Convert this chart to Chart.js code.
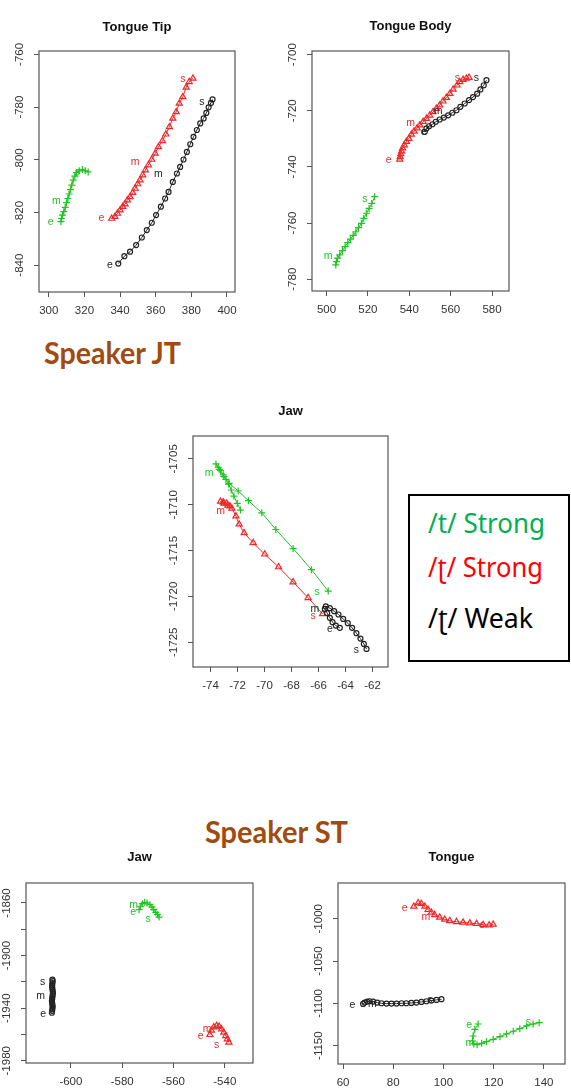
<!DOCTYPE html>
<html lang="en">
<head>
<meta charset="UTF-8">
<title>Speaker JT / ST trajectories</title>
<script src="https://cdn.jsdelivr.net/npm/chart.js"></script>
<style>
  body { margin: 0; background: #fff; width: 571px; height: 1090px; position: relative; overflow: hidden; }
  canvas { position: absolute; }
  .speaker { position: absolute; font-family: Lato, sans-serif; font-weight: bold; color: #A04B10;
             font-size: 31px; line-height: 1; white-space: nowrap; transform-origin: 0 0; }
  #legend { position: absolute; left: 408px; top: 494px; width: 162px; height: 168px;
            box-sizing: border-box; border: 2px solid #000; }
  #legend div { position: absolute; left: 18px; font-family: 'Noto Sans', sans-serif; font-size: 26.5px;
                line-height: 1; white-space: nowrap; transform-origin: 0 0; }
</style>
</head>
<body>
<div class="speaker" id="jt" data-w="137" style="left:44px; top:337px;">Speaker JT</div>
<div class="speaker" id="st" data-w="143" style="left:205px; top:816px;">Speaker ST</div>
<div id="legend">
  <div data-w="117" style="top:14px; color:#00B050;">/t/ Strong</div>
  <div data-w="115" style="top:58px; color:#FF0000;">/ʈ/ Strong</div>
  <div data-w="105" style="top:109px; color:#000;">/ʈ/ Weak</div>
</div>

<canvas id="tip"></canvas>
<canvas id="body"></canvas>
<canvas id="jawJT"></canvas>
<canvas id="jawST"></canvas>
<canvas id="tongueST"></canvas>

<script>
// ---- Speaker JT, Tongue Tip ----
const tipGreenX = [306.8, 307.1, 307.7, 308.4, 309.2, 309.9, 310.7, 311.4, 312.2, 312.9, 313.7, 314.6, 315.6, 317.1, 318.9, 320.5, 322.1];
const tipGreenY = [-823.5, -822.3, -821.0, -819.7, -818.1, -816.3, -814.7, -813.0, -811.3, -809.6, -807.7, -806.2, -804.9, -804.2, -803.7, -804.2, -804.6];
const tipRedX = [335.3, 337.1, 338.5, 340.0, 341.5, 342.8, 344.1, 345.6, 347.1, 348.4, 349.9, 351.2, 352.7, 354.2, 355.9, 357.8, 359.7, 361.5, 363.8, 365.7, 367.7, 369.6, 371.5, 373.2, 375.2, 377.1, 378.8, 380.9];
const tipRedY = [-822.3, -821.6, -820.4, -819.1, -817.8, -816.8, -815.3, -814.1, -812.5, -810.9, -809.2, -807.7, -805.8, -803.9, -802.0, -799.9, -797.6, -795.1, -792.8, -790.3, -787.5, -784.3, -781.8, -778.6, -776.1, -772.5, -770.4, -769.1];
const tipBlackX = [339.0, 342.4, 345.6, 349.0, 352.2, 355.0, 357.8, 360.2, 362.9, 365.3, 367.2, 369.6, 371.9, 373.7, 375.6, 377.5, 379.4, 381.2, 383.1, 385.0, 386.9, 388.4, 389.7, 391.0, 391.9];
const tipBlackY = [-839.4, -836.6, -834.9, -832.4, -829.5, -826.7, -823.9, -821.0, -817.8, -814.7, -812.2, -808.4, -805.2, -802.7, -799.9, -797.0, -794.1, -791.3, -788.7, -786.2, -784.3, -782.2, -780.1, -778.4, -777.1];
const tipGreenTags = [['e', 301.1, -823.5], ['m', 304.3, -815.6], ['s', 316.0, -804.7]];
const tipRedTags = [['e', 329.6, -822.3], ['m', 348.4, -801.0], ['s', 375.2, -769.4]];
const tipBlackTags = [['e', 334.3, -840.0], ['m', 361.5, -805.4], ['s', 385.9, -778.0]];
const tipXTicks = [300, 320, 340, 360, 380, 400];
const tipYTicks = [-840, -820, -800, -780, -760];

// ---- Speaker JT, Tongue Body ----
const bodyGreenX = [504.5, 504.8, 505.3, 506.4, 507.7, 509.0, 510.3, 511.6, 512.9, 514.2, 515.5, 516.9, 518.0, 519.3, 520.6, 521.9, 523.3];
const bodyGreenY = [-774.9, -773.7, -772.5, -771.3, -769.8, -768.4, -767.0, -765.7, -764.4, -763.1, -761.6, -760.1, -758.3, -756.5, -754.8, -753.0, -750.6];
const bodyRedX = [535.4, 535.6, 535.9, 536.3, 536.8, 537.6, 538.6, 539.8, 541.0, 542.3, 543.8, 545.1, 546.7, 548.3, 549.9, 551.5, 553.1, 554.7, 556.3, 557.9, 559.6, 561.2, 563.1, 564.4, 566.0, 567.6, 568.9];
const bodyRedY = [-737.3, -736.4, -735.4, -734.4, -733.3, -732.2, -731.0, -729.9, -728.4, -727.3, -726.2, -725.1, -723.9, -722.8, -721.6, -720.4, -719.2, -718.0, -716.6, -715.3, -713.9, -712.4, -710.9, -709.7, -708.9, -708.5, -708.2];
const bodyBlackX = [547.5, 548.3, 549.6, 551.2, 552.8, 554.7, 556.7, 558.8, 560.8, 562.8, 564.7, 566.8, 568.9, 570.8, 572.8, 574.4, 576.0, 577.3];
const bodyBlackY = [-727.5, -726.3, -725.5, -724.8, -723.9, -723.1, -722.4, -721.6, -720.7, -719.8, -718.6, -717.4, -716.2, -715.1, -713.9, -712.4, -710.9, -709.1];
const bodyGreenTags = [['m', 500.8, -771.7], ['s', 518.5, -751.4]];
const bodyRedTags = [['e', 530.1, -737.6], ['m', 540.6, -724.3], ['s', 563.3, -708.2]];
const bodyBlackTags = [['e', 547.0, -727.5], ['m', 553.9, -720.1], ['s', 572.4, -708.2]];
const bodyXTicks = [500, 520, 540, 560, 580];
const bodyYTicks = [-780, -760, -740, -720, -700];

// ---- Speaker JT, Jaw ----
const jtGreenX = [-71.78, -72.02, -72.27, -72.47, -72.67, -72.86, -73.06, -73.26, -73.43, -73.60, -73.36, -73.01, -72.62, -71.95, -71.19, -70.20, -69.16, -67.88, -66.52, -65.28];
const jtGreenY = [-1710.58, -1709.85, -1709.05, -1708.39, -1707.74, -1707.23, -1706.75, -1706.28, -1705.91, -1705.55, -1706.13, -1706.93, -1707.66, -1708.50, -1709.56, -1710.88, -1712.70, -1714.78, -1717.08, -1719.42];
const jtRedX = [-72.57, -72.81, -73.06, -73.26, -73.01, -72.72, -72.42, -72.12, -71.88, -71.51, -70.84, -69.98, -68.96, -67.88, -66.77, -65.70];
const jtRedY = [-1710.15, -1709.85, -1709.71, -1709.64, -1709.85, -1710.07, -1710.40, -1711.24, -1712.12, -1713.07, -1714.16, -1715.40, -1716.79, -1718.43, -1720.15, -1721.90];
const jtBlackX = [-64.42, -64.72, -64.96, -65.16, -65.36, -65.53, -65.46, -65.16, -64.84, -64.52, -64.17, -63.83, -63.51, -63.19, -62.89, -62.64, -62.44];
const jtBlackY = [-1723.43, -1723.18, -1722.81, -1722.34, -1721.82, -1721.35, -1721.09, -1721.28, -1721.61, -1721.97, -1722.45, -1722.92, -1723.43, -1724.01, -1724.60, -1725.18, -1725.73];
const jtGreenTags = [['m', -74.1, -1706.6], ['s', -66.1, -1719.5]];
const jtRedTags = [['m', -73.26, -1710.66], ['s', -66.4, -1722.15]];
const jtBlackTags = [['e', -65.16, -1723.61], ['m', -66.27, -1721.35], ['s', -63.19, -1725.84]];
const jtXTicks = [-74, -72, -70, -68, -66, -64, -62];
const jtYTicks = [-1725, -1720, -1715, -1710, -1705];

// ---- Speaker ST, Jaw ----
const stJawGreenX = [-573.4, -572.9, -572.1, -571.2, -570.3, -569.2, -568.4, -567.7, -566.9, -566.2, -565.6];
const stJawGreenY = [-1865.1, -1862.5, -1860.5, -1859.5, -1860.0, -1861.3, -1863.0, -1865.1, -1867.1, -1868.9, -1870.7];
const stJawRedX = [-545.8, -545.2, -544.3, -543.2, -542.2, -541.3, -540.4, -539.6, -539.0, -538.4];
const stJawRedY = [-1960.2, -1956.9, -1954.4, -1953.4, -1953.9, -1955.9, -1958.4, -1961.0, -1963.5, -1966.0];
const stJawBlackX = [-607.4, -607.3, -607.2, -607.1, -607.2, -607.3, -607.4, -607.3, -607.2, -607.1, -607.0, -607.1, -607.2, -607.3, -607.3, -607.2, -607.1, -607.2];
const stJawBlackY = [-1943.5, -1942.0, -1940.5, -1939.0, -1937.5, -1936.0, -1934.5, -1933.0, -1931.5, -1930.0, -1928.5, -1927.0, -1925.5, -1924.0, -1922.5, -1921.0, -1919.5, -1918.3];
const stJawGreenTags = [['m', -575.5, -1861.8], ['e', -575.7, -1866.8], ['s', -569.9, -1871.9]];
const stJawRedTags = [['m', -546.9, -1955.6], ['e', -549.4, -1961.5], ['s', -543.2, -1968.3]];
const stJawBlackTags = [['s', -611.0, -1920.4], ['m', -611.8, -1931.0], ['e', -610.8, -1944.2]];
const stJawXTicks = [-600, -580, -560, -540];
const stJawYTicks = [-1980, -1960, -1940, -1920, -1900, -1880, -1860];
const stJawYLabels = [-1980, -1940, -1900, -1860];

// ---- Speaker ST, Tongue ----
const stTongueRedX = [88.2, 89.9, 91.2, 92.6, 93.9, 95.2, 96.5, 98.5, 100.5, 102.5, 105.2, 107.8, 110.5, 113.2, 115.8, 118.2, 119.8];
const stTongueRedY = [-985.4, -981.4, -982.2, -985.4, -989.3, -992.5, -995.3, -998.4, -1000.8, -1002.4, -1003.6, -1004.3, -1005.1, -1005.9, -1007.1, -1007.5, -1006.7];
const stTongueBlackX = [68.0, 68.6, 69.6, 70.6, 72.0, 73.6, 75.3, 77.3, 79.3, 81.3, 83.3, 85.2, 87.2, 89.2, 91.2, 93.2, 95.2, 97.2, 99.2];
const stTongueBlackY = [-1100.7, -1099.1, -1097.9, -1097.5, -1097.9, -1099.1, -1099.9, -1100.3, -1100.3, -1100.3, -1099.9, -1099.9, -1099.5, -1099.1, -1098.3, -1097.5, -1096.7, -1095.9, -1095.1];
const stTongueGreenX = [113.8, 112.5, 111.8, 111.6, 112.1, 113.4, 115.2, 117.1, 119.8, 122.5, 125.1, 127.8, 130.4, 133.1, 135.7, 138.1];
const stTongueGreenY = [-1124.4, -1130.7, -1138.6, -1144.5, -1148.0, -1148.8, -1147.3, -1145.3, -1142.5, -1139.4, -1136.2, -1133.0, -1129.9, -1126.7, -1124.4, -1122.8];
const stTongueRedTags = [['e', 84.6, -987.4], ['m', 93.0, -998.4], ['s', 115.5, -1007.9]];
const stTongueBlackTags = [['e', 63.7, -1101.9], ['m', 71.7, -1100.7], ['s', 94.6, -1096.7]];
const stTongueGreenTags = [['e', 110.2, -1125.5], ['m', 110.5, -1146.5], ['s', 133.8, -1121.6]];
const stTongueXTicks = [60, 80, 100, 120, 140];
const stTongueYTicks = [-1150, -1100, -1050, -1000];

const GREEN = '#22C322', RED = '#EA2A2A', BLACK = '#222';
Chart.defaults.font.family = "'Liberation Sans', Arial, sans-serif";

function series(xs, ys, color, style, radius) {
  return {
    data: xs.map((v, i) => ({ x: v, y: ys[i] })),
    showLine: true, borderColor: color, borderWidth: 1, tension: 0, fill: false,
    pointStyle: style, pointRadius: radius, pointBorderColor: color, pointBorderWidth: 1.2,
    pointBackgroundColor: 'rgba(0,0,0,0)'
  };
}

function makePanel(id, p) {
  const yw = Math.min(40, p.box[0]);
  const padR = Math.min(10, 571 - p.box[2]);
  const cv = document.getElementById(id);
  cv.width = p.box[2] - p.box[0] + yw + padR;
  cv.height = p.box[3] - p.box[1] + 40 + 32;
  cv.style.left = (p.box[0] - yw) + 'px';
  cv.style.top = (p.box[1] - 40) + 'px';

  const rBox = {
    id: 'rBox',
    afterDraw(chart) {
      const { ctx, chartArea: a, scales: { y } } = chart;
      ctx.save();
      ctx.strokeStyle = '#555';
      ctx.lineWidth = 1.2;
      ctx.strokeRect(a.left, a.top, a.right - a.left, a.bottom - a.top);
      // title
      ctx.fillStyle = '#111';
      ctx.font = "bold 13px 'Liberation Sans', Arial, sans-serif";
      ctx.textAlign = 'center';
      ctx.textBaseline = 'middle';
      ctx.fillText(p.title, (a.left + a.right) / 2, a.top - (p.box[1] - p.titleY));
      // rotated y tick labels, R style
      ctx.fillStyle = '#333';
      ctx.font = "11.5px 'Liberation Sans', Arial, sans-serif";
      (p.yLabels || p.yTicks).forEach(v => {
        ctx.save();
        ctx.translate(a.left - 19, y.getPixelForValue(v));
        ctx.rotate(-Math.PI / 2);
        ctx.fillText(String(v), 0, 0);
        ctx.restore();
      });
      // e / m / s markers
      ctx.font = "10.5px 'Liberation Sans', Arial, sans-serif";
      p.tags.forEach(([color, list]) => {
        ctx.fillStyle = color;
        list.forEach(([t, vx, vy]) => {
          ctx.fillText(t, chart.scales.x.getPixelForValue(vx), y.getPixelForValue(vy));
        });
      });
      ctx.restore();
    }
  };

  return new Chart(cv, {
    type: 'scatter',
    data: { datasets: p.datasets },
    options: {
      responsive: false,
      animation: false,
      events: [],
      layout: { padding: { left: 0, top: 40, right: padR, bottom: 0 } },
      plugins: { legend: { display: false }, tooltip: { enabled: false } },
      scales: {
        x: {
          type: 'linear', min: p.xRange[0], max: p.xRange[1],
          afterBuildTicks: s => { s.ticks = p.xTicks.map(v => ({ value: v })); },
          afterFit: s => { s.height = 32; },
          border: { display: false },
          grid: { drawOnChartArea: false, tickLength: 5, color: '#555', lineWidth: 1 },
          ticks: { color: '#333', font: { size: 11.5 }, padding: 7, maxRotation: 0, autoSkip: false,
                   callback: v => String(v) }
        },
        y: {
          type: 'linear', min: p.yRange[0], max: p.yRange[1],
          afterBuildTicks: s => { s.ticks = p.yTicks.map(v => ({ value: v })); },
          afterFit: s => { s.width = yw; },
          border: { display: false },
          grid: { drawOnChartArea: false, tickLength: 5, color: '#555', lineWidth: 1 },
          ticks: { display: false }
        }
      }
    },
    plugins: [rBox]
  });
}

makePanel('tip', {
  title: 'Tongue Tip', box: [39, 51, 235, 292], titleY: 27,
  xRange: [294.5, 404.5], yRange: [-850.2, -758.7], xTicks: tipXTicks, yTicks: tipYTicks,
  datasets: [
    series(tipBlackX, tipBlackY, BLACK, 'circle', 2.5),
    series(tipRedX, tipRedY, RED, 'triangle', 3.5),
    series(tipGreenX, tipGreenY, GREEN, 'cross', 3.5)
  ],
  tags: [[GREEN, tipGreenTags], [RED, tipRedTags], [BLACK, tipBlackTags]]
});

makePanel('body', {
  title: 'Tongue Body', box: [312, 51, 509, 291], titleY: 26,
  xRange: [493, 588.2], yRange: [-784.2, -698.7], xTicks: bodyXTicks, yTicks: bodyYTicks,
  datasets: [
    series(bodyBlackX, bodyBlackY, BLACK, 'circle', 2.5),
    series(bodyRedX, bodyRedY, RED, 'triangle', 3.5),
    series(bodyGreenX, bodyGreenY, GREEN, 'cross', 3.5)
  ],
  tags: [[GREEN, bodyGreenTags], [RED, bodyRedTags], [BLACK, bodyBlackTags]]
});

makePanel('jawJT', {
  title: 'Jaw', box: [193, 436, 388, 667], titleY: 411,
  xRange: [-75.3, -60.85], yRange: [-1727.7, -1702.5], xTicks: jtXTicks, yTicks: jtYTicks,
  datasets: [
    series(jtBlackX, jtBlackY, BLACK, 'circle', 2.5),
    series(jtRedX, jtRedY, RED, 'triangle', 3.5),
    series(jtGreenX, jtGreenY, GREEN, 'cross', 3.5)
  ],
  tags: [[GREEN, jtGreenTags], [RED, jtRedTags], [BLACK, jtBlackTags]]
});

makePanel('jawST', {
  title: 'Jaw', box: [26, 883, 253, 1063], titleY: 857,
  xRange: [-617.5, -529], yRange: [-1981.7, -1844.8], xTicks: stJawXTicks, yTicks: stJawYTicks,
  yLabels: stJawYLabels,
  datasets: [
    series(stJawBlackX, stJawBlackY, BLACK, 'circle', 2.5),
    series(stJawRedX, stJawRedY, RED, 'triangle', 3.5),
    series(stJawGreenX, stJawGreenY, GREEN, 'cross', 3.5)
  ],
  tags: [[GREEN, stJawGreenTags], [RED, stJawRedTags], [BLACK, stJawBlackTags]]
});

makePanel('tongueST', {
  title: 'Tongue', box: [338, 883, 565, 1064], titleY: 857,
  xRange: [58, 148.4], yRange: [-1171.7, -957.7], xTicks: stTongueXTicks, yTicks: stTongueYTicks,
  datasets: [
    series(stTongueBlackX, stTongueBlackY, BLACK, 'circle', 2.5),
    series(stTongueRedX, stTongueRedY, RED, 'triangle', 3.5),
    series(stTongueGreenX, stTongueGreenY, GREEN, 'cross', 3.5)
  ],
  tags: [[GREEN, stTongueGreenTags], [RED, stTongueRedTags], [BLACK, stTongueBlackTags]]
});

// squeeze the Calibri-like texts to the widths seen in the figure
function fitTexts() {
  document.querySelectorAll('[data-w]').forEach(el => {
    el.style.transform = 'none';
    const w = el.getBoundingClientRect().width;
    el.style.transform = 'scaleX(' + (Number(el.dataset.w) / w) + ')';
  });
}
fitTexts();
if (document.fonts) document.fonts.ready.then(fitTexts);
</script>
</body>
</html>
